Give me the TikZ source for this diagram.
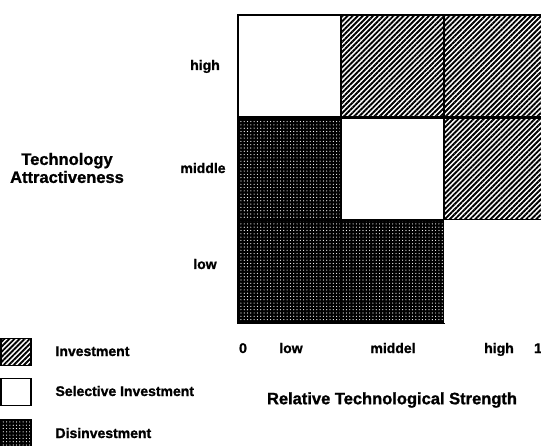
\documentclass[tikz,border=0pt]{standalone}
\usepackage{fontspec}
\setmainfont{Liberation Sans}[BoldFeatures={FakeBold=1.2}]
\usetikzlibrary{patterns.meta}

\tikzset{
  cell/.style={draw, line width=2.2pt, minimum width=103pt, minimum height=102.5pt, inner sep=0pt},
  key/.style={draw, line width=1.5pt, minimum width=30pt, minimum height=27pt, inner sep=0pt},
  invest/.style={pattern={Lines[angle=45, distance=3.6pt, line width=1.9pt]}, pattern color=black},
  select/.style={fill=white},
  disinvest/.style={preaction={fill=black}, pattern={Dots[distance=3.3pt, radius=0.6pt]}, pattern color=white},
  lbl/.style={font=\fontsize{14}{16}\selectfont\bfseries, anchor=base},
  ttl/.style={font=\fontsize{16.5}{18}\selectfont\bfseries, align=center}
}

\begin{document}
\begin{tikzpicture}[x=1pt, y=1pt]
    \useasboundingbox (0, 0) rectangle (541, 445);
    % portfolio matrix
    \node[cell, select]    at (289.5, 378.75) (hl) {};
    \node[cell, invest]    at (392.5, 378.75) (hm) {};
    \node[cell, invest]    at (495.5, 378.75) (hh) {};
    \node[cell, disinvest] at (289.5, 276.25) (ml) {};
    \node[cell, select]    at (392.5, 276.25) (mm) {};
    \node[cell, invest]    at (495.5, 276.25) (mh) {};
    \node[cell, disinvest] at (289.5, 173.75) (ll) {};
    \node[cell, disinvest] at (392.5, 173.75) (lm) {};
    \node[cell, select, draw=none] at (495.5, 173.75) (lh) {};
    % axis labels
    \node[lbl] at (205, 375) (yhigh) {high};
    \node[lbl] at (203, 272) (ymid)  {middle};
    \node[lbl] at (205, 176) (ylow)  {low};
    \node[ttl] at (67, 277) (ytitle) {Technology\\Attractiveness};
    \node[lbl] at (243, 92) (x0)    {0};
    \node[lbl] at (291, 92) (xlow)  {low};
    \node[lbl] at (393, 92) (xmid)  {middel};
    \node[lbl] at (499, 92) (xhigh) {high};
    \node[lbl] at (538, 92) (x1)    {1};
    \node[ttl] at (392, 45) (xtitle) {Relative Technological Strength};
    % legend
    \node[key, invest]    at (16, 93) (kinv) {};
    \node[key, select]    at (16, 53) (ksel) {};
    \node[key, disinvest] at (16, 12) (kdis) {};
    \node[lbl, anchor=base west] at (52, 89) (tinv) {Investment};
    \node[lbl, anchor=base west] at (52, 49) (tsel) {Selective Investment};
    \node[lbl, anchor=base west] at (52, 7) (tdis) {Disinvestment};
\end{tikzpicture}
\end{document}
